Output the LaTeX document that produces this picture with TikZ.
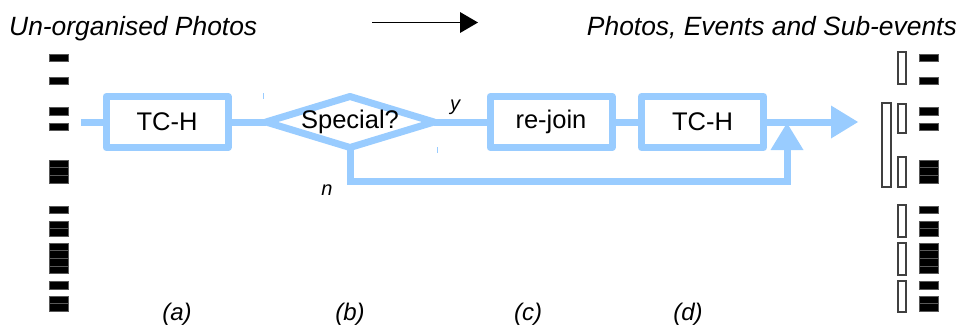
\documentclass[tikz,border=0pt]{standalone}
\usepackage{fontspec}
\setmainfont{Liberation Sans}
\usetikzlibrary{shapes.geometric,arrows.meta}
\definecolor{flow}{RGB}{153,204,255}

\begin{document}
\begin{tikzpicture}[x=1bp,y=-1bp,
  flowline/.style={draw=flow,line width=7bp},
  stage/.style={flowline,line join=round,rectangle,minimum width=122bp,minimum height=51bp,
    inner sep=0,outer sep=0,font=\fontsize{25.5bp}{30bp}\selectfont},
  test/.style={flowline,line join=round,diamond,minimum width=168bp,minimum height=51bp,
    inner sep=0,outer sep=0},
  caption/.style={font=\fontsize{26.4bp}{31bp}\selectfont\itshape},
  tag/.style={font=\fontsize{24bp}{28bp}\selectfont\itshape,anchor=base},
  small/.style={font=\fontsize{20bp}{24bp}\selectfont\itshape,anchor=base},
  link/.style={flowline},
  head/.style={-{Triangle[length=27bp,width=33bp,line width=0pt]}},
  photo/.style={fill=black,draw=black!65,line width=0.4bp},
  event/.style={draw=black!75,line width=1.3bp},
]
\useasboundingbox (0,0) rectangle (966,329);

% titles and the direction arrow
\node[caption,anchor=base west,inner sep=0] (tl) at (9,35) {Un-organised Photos};
\node[caption,anchor=base east,inner sep=0] (tr) at (957,35) {Photos, Events and Sub-events};
\coordinate (ta) at (372,22.5);
\coordinate (tb) at (478,22.5);
\draw[line width=1.2bp,-{Triangle[length=18bp,width=21bp,line width=0pt]}] (ta) -- (tb);

% photo strips, left (input) and right (output)
\foreach \y/\n in {54/1,77/1,107.5/1,123/1,160/3,206/1,221/2,243/4,281.5/1,296/2}{
  \foreach \k in {1,...,\n}{
    \path[photo] (49,{\y+(\k-1)*7.6}) rectangle ++(19,7.6);
    \path[photo] (919,{\y+(\k-1)*7.6}) rectangle ++(19,7.6);
  }
}

% events and the sub-event grouping
\foreach \ta/\tb in {52/84,104/133,157/187,205/237,243/275,281/312}
  \draw[event] (898,\ta) rectangle (906,\tb);
\draw[event] (882,103) rectangle (891,187);

% processing pipeline
\node[stage] (h1) at (167,122) {TC-H};
\node[test] (sp) at (350,122) {};
\node[font=\fontsize{25.5bp}{30bp}\selectfont] (spt) at (sp.center) {Special?};
\node[stage] (rj) at (551,122) {re-join};
\node[stage] (h2) at (702.5,122) {TC-H};

\coordinate (src) at (81,122);
\coordinate (dst) at (858,122);
\coordinate (merge) at (787,123);
\coordinate (bend) at (787,181.5);

\draw[link] (src) -- (h1.west);
\draw[link] (h1.east) -- (sp.west);
\draw[link] (sp.east) -- (rj.west);
\draw[link] (rj.east) -- (h2.west);
\draw[link,head] (h2.east) -- (dst);
\draw[link,head,line join=miter] (sp.south) |- (bend) -- (merge);

\draw[flow,line width=1bp] (263,93) -- (263,99);
\draw[flow,line width=1bp] (437,147) -- (437,153);

\node[small] (ly) at (455,110) {y};
\node[small] (ln) at (327,195) {n};

% stage labels
\node[tag] (ca) at (177,320) {(a)};
\node[tag] (cb) at (350,320) {(b)};
\node[tag] (cc) at (528,320) {(c)};
\node[tag] (cd) at (688,320) {(d)};
\end{tikzpicture}
\end{document}
